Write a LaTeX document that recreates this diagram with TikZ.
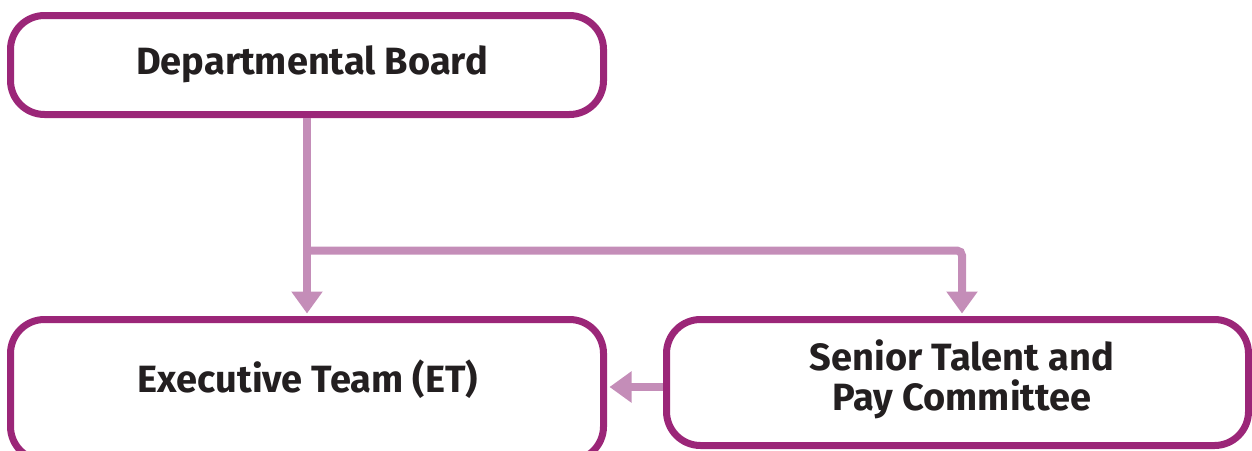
\documentclass[tikz,border=0pt]{standalone}
\usepackage{fontspec}
\setmainfont{Fira Sans}
\usetikzlibrary{arrows.meta}
\definecolor{boxc}{RGB}{155,38,120}
\definecolor{connc}{RGB}{196,141,184}
\definecolor{txtc}{RGB}{35,31,32}
\tikzset{
  orgbox/.style={draw=boxc, line width=7pt, rounded corners=34pt, fill=white, inner sep=0pt},
  lbl/.style={text=txtc, font=\fontsize{38}{40}\selectfont\bfseries, align=center, inner sep=0pt},
  conn/.style={draw=connc, line width=8pt, -{Triangle[width=30pt,length=22pt]}, shorten >=2.5pt},
}
\begin{document}
\begin{tikzpicture}[x=1pt,y=-1pt]
\useasboundingbox (0,0) rectangle (1252,450);
\node[orgbox, minimum width=593pt, minimum height=99pt] (db) at (307,65) {};
\node[orgbox, minimum width=593pt, minimum height=141pt] (et) at (307,390) {};
\node[orgbox, minimum width=582pt, minimum height=126pt] (stp) at (957.5,382.5) {};
\node[lbl] (dbt) at (312,64) {Departmental Board};
\node[lbl] (ett) at (308,379) {Executive Team (ET)};
\node[lbl] (stpt) at (962,379) {Senior Talent and\\Pay Committee};
\coordinate (j) at (307,250.5);
\coordinate (k) at (962,250.5);
\draw[conn] (db.south) -- (et.north);
\draw[conn, rounded corners=5pt] (j) -- (k) -- (k |- stp.north);
\coordinate (s) at (stp.west |- 0,387);
\draw[conn] (s) -- (et.east |- s);
\end{tikzpicture}
\end{document}
